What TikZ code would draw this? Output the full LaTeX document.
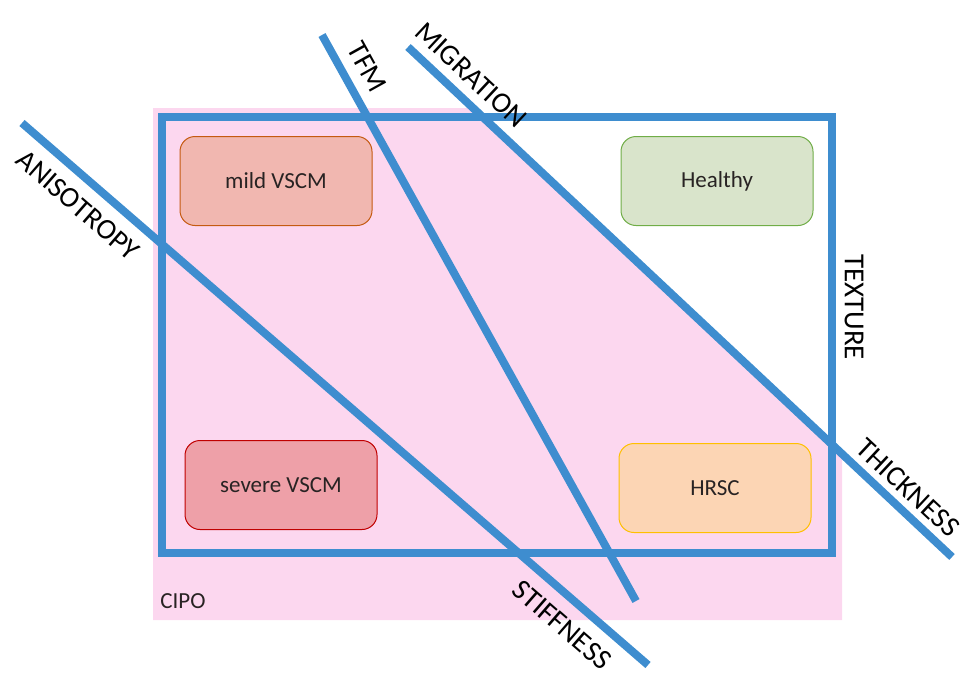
\documentclass[tikz,border=0pt]{standalone}
\usepackage{fontspec}
\setmainfont{Carlito}
\definecolor{axisblue}{RGB}{62,141,207}
\definecolor{cipopink}{RGB}{252,215,239}
\definecolor{mildfill}{RGB}{241,183,176}
\definecolor{milddraw}{RGB}{197,90,17}
\definecolor{healthfill}{RGB}{217,228,203}
\definecolor{healthdraw}{RGB}{112,173,71}
\definecolor{sevfill}{RGB}{238,160,168}
\definecolor{sevdraw}{RGB}{192,0,0}
\definecolor{hrscfill}{RGB}{252,213,180}
\definecolor{hrscdraw}{RGB}{255,192,0}
\definecolor{txt}{RGB}{40,35,35}
\tikzset{
  group/.style={draw, rounded corners=15pt, line width=1pt, minimum width=192pt, minimum height=89pt, text=txt, font=\fontsize{23}{27}\selectfont},
  axisline/.style={draw=axisblue, line width=8pt},
  axislabel/.style={font=\fontsize{29}{35}\selectfont, text=black, inner sep=0pt},
}
\begin{document}
\begin{tikzpicture}[x=1pt,y=-1pt]
\useasboundingbox (0,0) rectangle (964,675);
% CIPO region, cut by the MIGRATION/THICKNESS line
\fill[cipopink] (153,108) -- (473,108) -- (842,454) -- (842,620) -- (153,620) -- cycle;
\node[font=\fontsize{23}{27}\selectfont, text=txt] (cipo) at (183,601) {CIPO};
% groups
\node[group, fill=mildfill, draw=milddraw] (mild) at (276,181) {mild VSCM};
\node[group, fill=healthfill, draw=healthdraw] (healthy) at (717,181) {Healthy};
\node[group, fill=sevfill, draw=sevdraw] (severe) at (281,485) {severe VSCM};
\node[group, fill=hrscfill, draw=hrscdraw] (hrsc) at (715,488) {HRSC};
% texture frame
\draw[axisline] (162,117) rectangle (832,553);
% axes
\coordinate (aniA) at (22,123);
\coordinate (aniB) at (648,665);
\coordinate (tfmA) at (322,35);
\coordinate (tfmB) at (636,601);
\coordinate (migA) at (408,47);
\coordinate (migB) at (952,557);
\draw[axisline] (aniA) -- (aniB);
\draw[axisline] (tfmA) -- (tfmB);
\draw[axisline] (migA) -- (migB);
% labels
\node[axislabel, rotate=-41] (aniso) at (78,205) {ANISOTROPY};
\node[axislabel, rotate=-61] (tfm) at (367,67) {TFM};
\node[axislabel, rotate=-43] (migr) at (471,75) {MIGRATION};
\node[axislabel, rotate=-90] (texture) at (854,307) {TEXTURE};
\node[axislabel, rotate=-43] (thick) at (908,488) {THICKNESS};
\node[axislabel, rotate=-41] (stiff) at (562,625) {STIFFNESS};
\end{tikzpicture}
\end{document}
